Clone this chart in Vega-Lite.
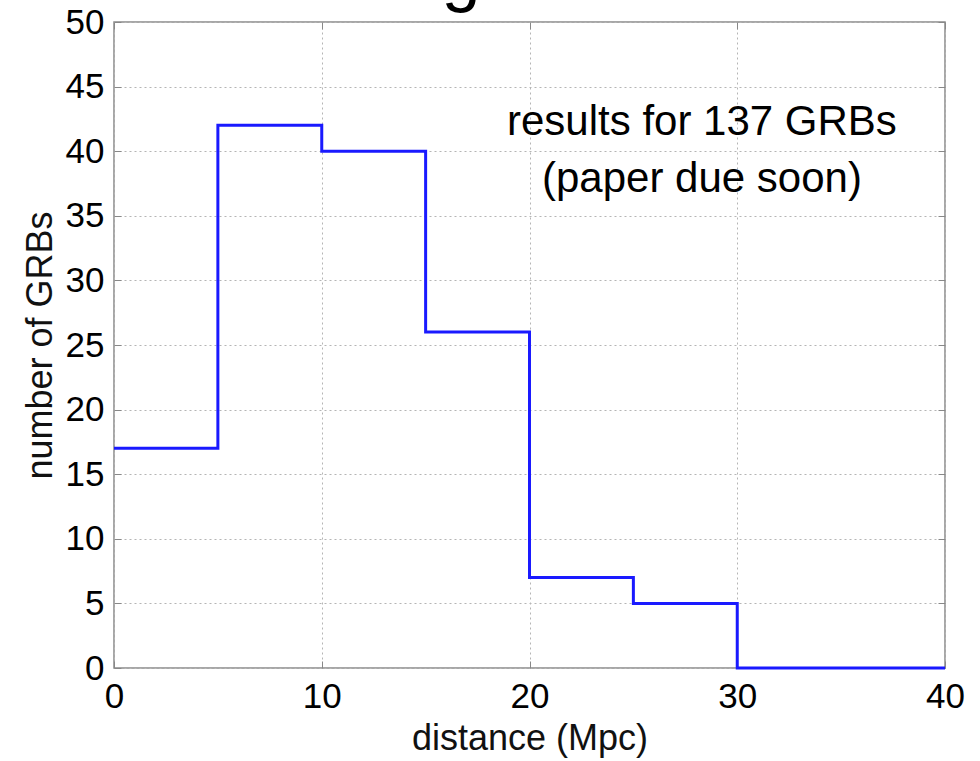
{
  "$schema": "https://vega.github.io/schema/vega-lite/v6.json",
  "width": 831,
  "height": 646,
  "autosize": {"type": "none"},
  "padding": {"left": 114, "top": 22, "right": 35, "bottom": 93},
  "background": "white",
  "config": {
    "view": {"stroke": "#8a8a8a", "strokeWidth": 1.5},
    "font": "Liberation Sans",
    "axis": {
      "labelFont": "Liberation Sans",
      "titleFont": "Liberation Sans",
      "labelFontSize": 35,
      "titleFontSize": 36,
      "labelColor": "#000",
      "titleColor": "#111",
      "titleFontWeight": "normal",
      "domain": false,
      "tickColor": "#888",
      "tickSize": -7,
      "grid": true,
      "gridColor": "#b5b5b5",
      "gridDash": [2, 3],
      "gridWidth": 1
    }
  },
  "resolve": {"axis": {"x": "independent", "y": "independent"}},
  "layer": [
    {
      "data": {"values": [
        {"distance": 0, "count": 17},
        {"distance": 5, "count": 42},
        {"distance": 10, "count": 40},
        {"distance": 15, "count": 26},
        {"distance": 20, "count": 7},
        {"distance": 25, "count": 5},
        {"distance": 30, "count": 0},
        {"distance": 40, "count": 0}
      ]},
      "mark": {"type": "line", "interpolate": "step-after", "color": "#1a1aff", "strokeWidth": 3},
      "encoding": {
        "x": {"field": "distance", "type": "quantitative", "scale": {"domain": [0, 40], "nice": false},
              "axis": {"values": [0, 10, 20, 30, 40], "title": "distance (Mpc)", "labelFlush": false, "labelPadding": 18, "titlePadding": 7}},
        "y": {"field": "count", "type": "quantitative", "scale": {"domain": [0, 50], "nice": false},
              "axis": {"values": [0, 5, 10, 15, 20, 25, 30, 35, 40, 45, 50], "title": "number of GRBs", "labelFlush": false, "labelPadding": 17, "titlePadding": 6}}
      }
    },
    {
      "data": {"values": [
        {"distance": 28.3, "count": 41.25, "label": "results for 137 GRBs"},
        {"distance": 28.3, "count": 36.84, "label": "(paper due soon)"}
      ]},
      "mark": {"type": "text", "fontSize": 42, "font": "Liberation Sans", "color": "#000", "align": "center", "baseline": "alphabetic"},
      "encoding": {
        "x": {"field": "distance", "type": "quantitative",
              "axis": {"orient": "top", "values": [0, 10, 20, 30, 40], "labels": false, "title": null, "grid": false}},
        "y": {"field": "count", "type": "quantitative",
              "axis": {"orient": "right", "values": [0, 5, 10, 15, 20, 25, 30, 35, 40, 45, 50], "labels": false, "title": null, "grid": false}},
        "text": {"field": "label"}
      }
    },
    {
      "data": {"values": [{"distance": 16.7, "count": 51.86, "label": "g"}]},
      "mark": {"type": "text", "fontSize": 70, "font": "Liberation Sans", "color": "#000", "align": "center", "baseline": "alphabetic", "clip": false},
      "encoding": {
        "x": {"field": "distance", "type": "quantitative", "axis": null},
        "y": {"field": "count", "type": "quantitative", "axis": null},
        "text": {"field": "label"}
      }
    }
  ]
}
